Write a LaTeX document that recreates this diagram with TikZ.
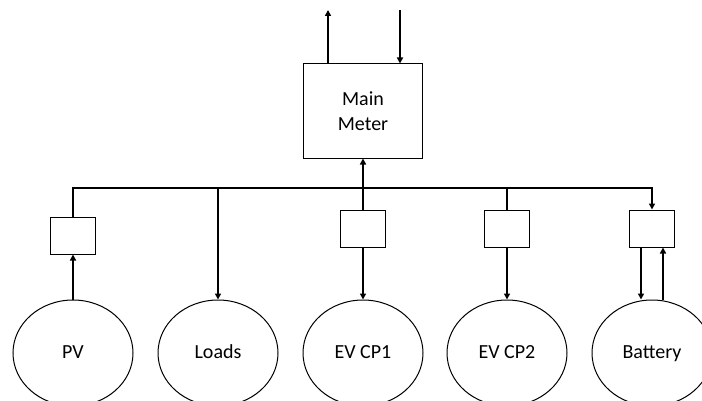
\documentclass[tikz,border=0pt]{standalone}
\usepackage{fontspec}
\setmainfont{Carlito}
\usetikzlibrary{shapes.geometric}
\usetikzlibrary{arrows.meta}

\begin{document}
\begin{tikzpicture}[x=1pt,y=1pt,
  font=\fontsize{20}{25}\selectfont,
  box/.style={draw, line width=1pt, minimum width=45pt, minimum height=37pt, inner sep=0pt},
  unit/.style={draw, ellipse, line width=1pt, minimum width=120pt, minimum height=106pt, inner sep=0pt,
    text height=2.2ex, text depth=0pt},
  wire/.style={line width=1.8pt},
  flow/.style={wire, -{Triangle[width=6pt,length=6pt]}}]

\path[use as bounding box, clip] (0,0) rectangle (702,400);

% meter at the grid connection
\node[box, minimum width=119pt, minimum height=94pt, align=center] (meter) at (363,289) {Main\\Meter};

% sub meters
\node[box] (pvbox) at (73,164.5) {};
\node[box] (cp1box) at (363,171) {};
\node[box] (cp2box) at (507,171.5) {};
\node[box] (batbox) at (652,171.5) {};

% assets
\node[unit] (pv) at (73,47) {PV};
\node[unit] (loads) at (218,47) {Loads};
\node[unit] (cp1) at (363,47) {EV CP1};
\node[unit] (cp2) at (507,47) {EV CP2};
\node[unit] (bat) at (652,47) {Battery};

\coordinate (bus) at (0,212);
\coordinate (export) at (328,390);
\coordinate (import) at (400,390);

% bus bar
\draw[flow] (pvbox.north) |- (bus -| batbox.north) -- (batbox.north);
\draw[flow] (bus -| loads.north) -- (loads.north);
\draw[flow] (bus -| meter.south) -- (meter.south);
\draw[wire] (bus -| cp1box.north) -- (cp1box.north);
\draw[wire] (bus -| cp2box.north) -- (cp2box.north);

% sub meters to assets
\draw[flow] (pv.north) -- (pvbox.south);
\draw[flow] (cp1box.south) -- (cp1.north);
\draw[flow] (cp2box.south) -- (cp2.north);
\draw[flow] ([xshift=-11pt]batbox.south) -- ([xshift=-11pt]bat.north);
\draw[flow] ([xshift=11pt]bat.north) -- ([xshift=11pt]batbox.south);

% grid
\draw[flow] (meter.north -| export) -- (export);
\draw[flow] (import) -- (import |- meter.north);

\end{tikzpicture}
\end{document}
